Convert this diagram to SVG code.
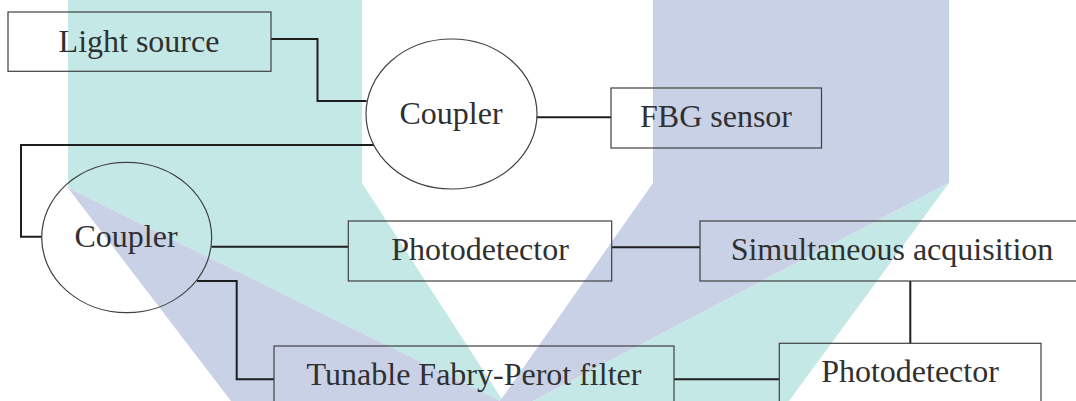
<svg xmlns="http://www.w3.org/2000/svg" width="1076" height="401" viewBox="0 0 1076 401">
<style>
.box{fill:none;stroke:#404040;stroke-width:1.2}
.ell{fill:none;stroke:#404040;stroke-width:1.2}
.lbl{font-family:"Liberation Serif","Times New Roman",serif;font-size:32px;fill:#303030;text-anchor:middle}
.conn{fill:none;stroke:#1e1e1e;stroke-width:2}
.teal{fill:#c4e8e6}
.lav{fill:#c9d1e6}
</style>
<rect x="0" y="0" width="1076" height="401" fill="#ffffff"/>
<g id="watermark">
<polygon class="teal" points="68,0 362,0 362,183 503,401 500,401 68,188"/>
<polygon class="lav" points="68,188 500,401 231,401"/>
<polygon class="lav" points="653,0 949,0 949,183 533,401 500,401 653,183"/>
<polygon class="teal" points="949,183 789,401 533,401"/>
</g>
<g id="connectors">
<polyline class="conn" points="271,39 317.5,39 317.5,101 366.5,101"/>
<line class="conn" x1="537" y1="117.3" x2="611" y2="117.3"/>
<polyline class="conn" points="374,145 21,145 21,236.7 41.7,236.7"/>
<line class="conn" x1="211.5" y1="246.7" x2="348.3" y2="246.7"/>
<polyline class="conn" points="197,281 236.7,281 236.7,379.3 274,379.3"/>
<line class="conn" x1="611.7" y1="247.3" x2="700" y2="247.3"/>
<line class="conn" x1="910.3" y1="281" x2="910.3" y2="343.3"/>
<line class="conn" x1="674" y1="379.3" x2="779.3" y2="379.3"/>
</g>
<g id="light-source">
<rect class="box" x="8" y="12" width="263" height="59.3"/>
<text class="lbl" x="139" y="52">Light source</text>
</g>
<g id="coupler-top">
<ellipse class="ell" cx="451.5" cy="114" rx="85.5" ry="75"/>
<text class="lbl" x="451" y="124">Coupler</text>
</g>
<g id="fbg-sensor">
<rect class="box" x="611" y="88" width="210.5" height="60"/>
<text class="lbl" x="716" y="127">FBG sensor</text>
</g>
<g id="coupler-bottom">
<ellipse class="ell" cx="126.7" cy="237.5" rx="85" ry="75.2"/>
<text class="lbl" x="126" y="246.7">Coupler</text>
</g>
<g id="photodetector-1">
<rect class="box" x="348.3" y="221" width="263.4" height="60"/>
<text class="lbl" x="480" y="260">Photodetector</text>
</g>
<g id="simultaneous-acquisition">
<rect class="box" x="700" y="221" width="390" height="60"/>
<text class="lbl" x="892" y="260">Simultaneous acquisition</text>
</g>
<g id="photodetector-2">
<rect class="box" x="779.3" y="343.3" width="261.7" height="70"/>
<text class="lbl" x="910" y="381.7">Photodetector</text>
</g>
<g id="fabry-perot-filter">
<rect class="box" x="274" y="346" width="400" height="70"/>
<text class="lbl" x="474" y="385">Tunable Fabry-Perot filter</text>
</g>
</svg>
